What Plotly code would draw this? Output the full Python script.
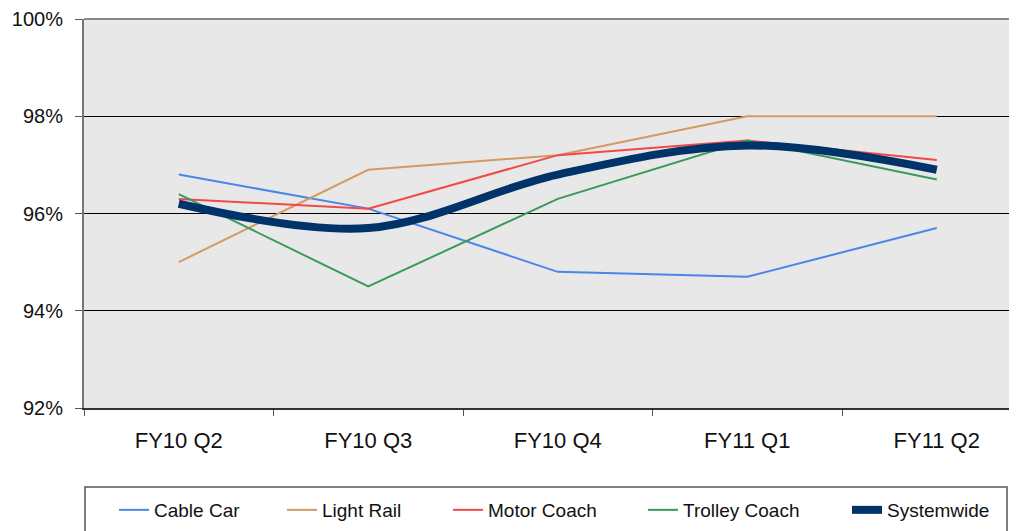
import plotly.graph_objects as go

categories = ["FY10 Q2", "FY10 Q3", "FY10 Q4", "FY11 Q1", "FY11 Q2"]
cable_car = [96.8, 96.1, 94.8, 94.7, 95.7]
light_rail = [95.0, 96.9, 97.2, 98.0, 98.0]
motor_coach = [96.3, 96.1, 97.2, 97.5, 97.1]
trolley_coach = [96.4, 94.5, 96.3, 97.5, 96.7]
systemwide = [96.2, 95.7, 96.8, 97.4, 96.9]

series = [
    ("Cable Car", cable_car, "#4a86e8", 2, "linear"),
    ("Light Rail", light_rail, "#d49a62", 2, "linear"),
    ("Motor Coach", motor_coach, "#f44848", 2, "linear"),
    ("Trolley Coach", trolley_coach, "#3a9a5a", 2, "linear"),
    ("Systemwide", systemwide, "#00336a", 8, "spline"),
]

# page has an 8px body margin; work in reference pixel coordinates
OFF = 8
W, H = 1017 - OFF, 531 - OFF
L, T = 84 - OFF, 11
B = (531 - 408)
R = 0
pw, ph = W - L - R, H - T - B


def px_x(p):
    return (p - OFF - L) / pw


def px_y(p):
    return (H - B - (p - OFF)) / ph


legend_text_px = [154, 322, 488, 683, 887]

fig = go.Figure()
for i, (name, vals, color, width, shape) in enumerate(series):
    fig.add_trace(go.Scatter(
        x=categories, y=vals, name=name, mode="lines",
        line=dict(color=color, width=width, shape=shape, smoothing=1.0),
        legend="legend" if i == 0 else f"legend{i+1}",
        showlegend=True,
    ))

font = "Liberation Sans, Arial, sans-serif"
leg_common = dict(orientation="h", yanchor="middle", xanchor="left",
                  xref="container", yref="container",
                  bgcolor="rgba(0,0,0,0)", borderwidth=0,
                  font=dict(family=font, size=19, color="#111"))
legends = {}
for i, tp in enumerate(legend_text_px):
    key = "legend" if i == 0 else f"legend{i+1}"
    legends[key] = dict(x=(tp - OFF - 40) / W, y=(H - (510 - OFF)) / H, **leg_common)

# category band of ~189.5px: extend range so plot spills past right edge
band_px = 189.5
x_max = -0.5 + pw / band_px

fig.update_layout(
    width=W, height=H,
    margin=dict(l=L, r=R, t=T, b=B),
    showlegend=True,
    paper_bgcolor="white",
    plot_bgcolor="#e8e8e8",
    font=dict(family=font, size=20, color="#111"),
    xaxis=dict(
        range=[-0.5, x_max], type="category", automargin=False,
        showgrid=False, showline=True, linecolor="#333", linewidth=2,
        ticks="outside", tickson="boundaries", ticklen=6, tickcolor="#555",
        tickfont=dict(size=22), ticklabelstandoff=12,
    ),
    yaxis=dict(
        range=[92, 100], dtick=2, ticksuffix="%", automargin=False,
        showgrid=True, gridcolor="#000", gridwidth=1,
        showline=True, linecolor="#777", linewidth=2,
        ticks="outside", ticklen=7, tickcolor="#555",
        tickfont=dict(size=20), ticklabelstandoff=8,
        ticklabeloverflow="allow",
        zeroline=False,
    ),
    shapes=[
        dict(type="line", xref="paper", yref="paper", x0=0, x1=1, y0=1, y1=1,
             line=dict(color="#888", width=2)),
        dict(type="rect", xref="paper", yref="paper",
             x0=px_x(85), x1=px_x(1007), y0=px_y(487), y1=px_y(545),
             line=dict(color="#555", width=1.5), fillcolor="rgba(0,0,0,0)"),
    ],
    **legends,
)

fig.write_html("out.html")
